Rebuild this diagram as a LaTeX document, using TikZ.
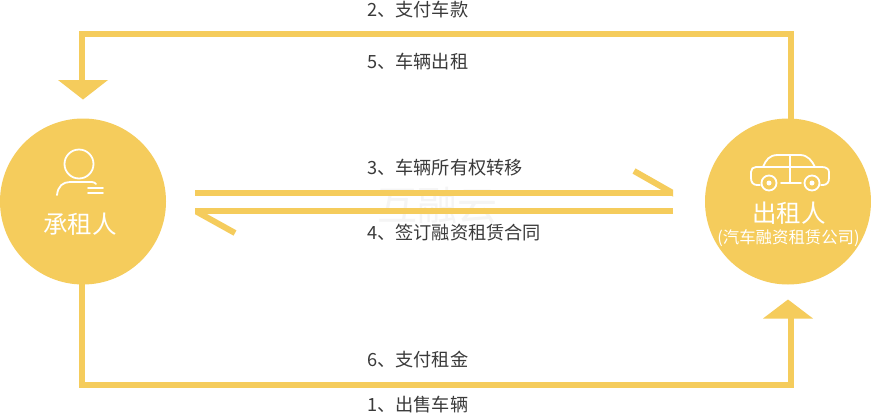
\documentclass[tikz,border=0pt]{standalone}
\usepackage{fontspec}
\setmainfont{Noto Sans CJK SC}
\definecolor{gold}{HTML}{F5CC5C}
\definecolor{ink}{HTML}{3A3A3A}
\tikzset{
  x=1pt,y=-1pt,
  party/.style={circle,fill=gold,draw=none,minimum size=166pt,inner sep=0pt},
  flow/.style={draw=gold,line width=6pt,line join=miter,line cap=butt},
  lbl/.style={font=\fontsize{18.2pt}{20pt}\selectfont,text=ink,inner sep=0pt,anchor=west},
  wht/.style={text=white,inner sep=0pt},
  icon/.style={draw=white,line width=1.8pt,line cap=round,fill=none}
}
\begin{document}
\begin{tikzpicture}
\useasboundingbox (0,0) rectangle (871,413);
\fill[white] (0,0) rectangle (871,413);
\node[party] (L) at (83,201.5) {};
\node[party] (R) at (788,201.5) {};
% watermark
\node[text=black!4,font=\fontsize{40pt}{42pt}\selectfont,inner sep=0pt] (wm) at (437,205) {互融云};
% outer routes
\coordinate (rs) at (791,120);
\coordinate (tr) at (791,34);
\coordinate (tl) at (82,34);
\coordinate (te) at (82,82);
\coordinate (ls) at (82,284);
\coordinate (bl) at (82,385);
\coordinate (br) at (791,385);
\coordinate (be) at (791,316);
\coordinate (ta) at (83,99.5);
\coordinate (ba) at (788,299.5);
\draw[flow] (rs) -- (tr) -- (tl) -- (te);
\path[fill=gold] (58,80) -- (108,80) -- (ta) -- cycle;
\draw[flow] (ls) -- (bl) -- (br) -- (be);
\path[fill=gold] (763,318.5) -- (813,318.5) -- (ba) -- cycle;
% middle arrows
\coordinate (m1a) at (195,193);
\coordinate (m1b) at (673,193);
\coordinate (m1c) at (634,171);
\coordinate (m2a) at (673,211);
\coordinate (m2b) at (195,211);
\coordinate (m2c) at (235,233);
\draw[flow] (m1a) -- (m1b);
\begin{scope}
\clip (600,160) rectangle (673,196);
\draw[flow] (m1c) -- (678,196);
\end{scope}
\draw[flow] (m2a) -- (m2b);
\begin{scope}
\clip (195,208) rectangle (260,245);
\draw[flow] (190,208) -- (m2c);
\end{scope}
% labels
\node[lbl] (t2) at (367,10) {2、支付车款};
\node[lbl] (t5) at (367,62) {5、车辆出租};
\node[lbl] (t3) at (367,168) {3、车辆所有权转移};
\node[lbl] (t4) at (367,233) {4、签订融资租赁合同};
\node[lbl] (t6) at (367,360) {6、支付租金};
\node[lbl] (t1) at (367,405) {1、出售车辆};
% person icon
\draw[icon] (79,164) circle (14.5);
\draw[icon] (57,195) .. controls (58,186) and (63,182) .. (70,182) -- (92,182) .. controls (94,182) and (95,183) .. (96,184);
\draw[icon] (88,188) -- (103,188) (88,193) -- (103,193);
\node[wht,font=\fontsize{24.5pt}{26pt}\selectfont] (ln) at (80,224) {承租人};
% car icon
\draw[icon] (760,185) -- (757,185) .. controls (753,185) and (751,182) .. (751,178) -- (751,172) .. controls (751,169) and (753,167) .. (756,167) -- (822,167) .. controls (826,167) and (829,169) .. (829,172) -- (829,178) .. controls (829,182) and (827,185) .. (823,185) -- (821,185);
\draw[icon] (763,167) .. controls (766,160) and (769,155) .. (778,155) -- (800,155) .. controls (808,155) and (812,161) .. (815,167);
\draw[icon] (790,155) -- (790,183) (781,183) -- (801,183);
\draw[icon] (769,183) circle (7.5) (812,183) circle (7.5);
\fill[white] (769,183) circle (2.5) (812,183) circle (2.5);
\node[wht,font=\fontsize{24.5pt}{26pt}\selectfont] (rn) at (789,213) {出租人};
\node[wht,font=\fontsize{16.4pt}{18pt}\selectfont] (rt) at (788.5,238.5) {(汽车融资租赁公司)};
\end{tikzpicture}
\end{document}
